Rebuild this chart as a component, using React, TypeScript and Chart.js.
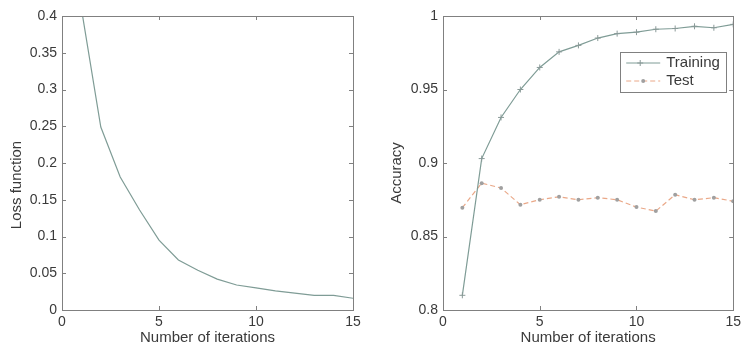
import React, { useEffect, useRef } from "react";
import { Chart, registerables } from "chart.js";

Chart.register(...registerables);

const iterations = [1, 2, 3, 4, 5, 6, 7, 8, 9, 10, 11, 12, 13, 14, 15];
const lossValues = [0.41, 0.249, 0.181, 0.136, 0.095, 0.068, 0.054, 0.042, 0.034, 0.03, 0.026, 0.023, 0.02, 0.02, 0.016];
const trainingAcc = [0.81, 0.903, 0.931, 0.95, 0.965, 0.9756, 0.98, 0.985, 0.988, 0.989, 0.991, 0.9915, 0.993, 0.992, 0.9943];
const testAcc = [0.8696, 0.8863, 0.883, 0.8716, 0.875, 0.877, 0.875, 0.8764, 0.875, 0.87, 0.8673, 0.8784, 0.875, 0.8764, 0.874];
const xTicks = [0, 5, 10, 15];
const lossTicks = [0, 0.05, 0.1, 0.15, 0.2, 0.25, 0.3, 0.35, 0.4];
const accTicks = [0.8, 0.85, 0.9, 0.95, 1];

const FONT = "'Liberation Sans', Arial, sans-serif";
const TEXT = "#3a3a3a";
const AXIS = "#808080";
const TRAIN_COLOR = "#7f9c96";
const TEST_COLOR = "#eaa888";

const pts = (ys: number[]) => iterations.map((x, i) => ({ x, y: ys[i] }));

const boxPlugin = {
  id: "matlabBox",
  afterDraw(chart: any, _args: any, opts: any) {
    const { ctx, chartArea: a, scales } = chart;
    ctx.save();
    ctx.strokeStyle = AXIS;
    ctx.lineWidth = 1;
    ctx.strokeRect(Math.round(a.left) + 0.5, Math.round(a.top) + 0.5, Math.round(a.right - a.left), Math.round(a.bottom - a.top));
    const tl = 4;
    ctx.beginPath();
    scales.x.ticks.forEach((t: any) => {
      const px = Math.round(scales.x.getPixelForValue(t.value)) + 0.5;
      ctx.moveTo(px, a.bottom);
      ctx.lineTo(px, a.bottom - tl);
      ctx.moveTo(px, a.top);
      ctx.lineTo(px, a.top + tl);
    });
    scales.y.ticks.forEach((t: any) => {
      const py = Math.round(scales.y.getPixelForValue(t.value)) + 0.5;
      ctx.moveTo(a.left, py);
      ctx.lineTo(a.left + tl, py);
      ctx.moveTo(a.right, py);
      ctx.lineTo(a.right - tl, py);
    });
    ctx.stroke();
    // y title
    ctx.fillStyle = TEXT;
    ctx.font = `15px ${FONT}`;
    ctx.textAlign = "center";
    ctx.textBaseline = "middle";
    ctx.translate(opts.titleX, (a.top + a.bottom) / 2 + opts.titleDy);
    ctx.rotate(-Math.PI / 2);
    ctx.fillText(opts.title, 0, 0);
    ctx.restore();
  },
};

const legendPlugin = {
  id: "boxLegend",
  afterDraw(chart: any, _args: any, opts: any) {
    if (!opts || !opts.show) return;
    const { ctx, chartArea: a } = chart;
    const w = 106, h = 40;
    const x0 = a.right - 7 - w;
    const y0 = a.top + 36;
    ctx.save();
    ctx.fillStyle = "#fff";
    ctx.fillRect(x0, y0, w, h);
    ctx.strokeStyle = AXIS;
    ctx.lineWidth = 1;
    ctx.strokeRect(Math.round(x0) + 0.5, Math.round(y0) + 0.5, w, h);
    const ds = chart.data.datasets;
    ds.forEach((d: any, i: number) => {
      const yy = y0 + 11 + i * 18;
      ctx.strokeStyle = d.borderColor;
      ctx.lineWidth = 1;
      ctx.setLineDash(d.borderDash || []);
      ctx.beginPath();
      ctx.moveTo(x0 + 6, yy);
      ctx.lineTo(x0 + 40, yy);
      ctx.stroke();
      ctx.setLineDash([]);
      ctx.strokeStyle = d.pointBorderColor;
      ctx.fillStyle = d.pointBackgroundColor;
      ctx.beginPath();
      if (d.pointStyle === "cross") {
        ctx.moveTo(x0 + 20, yy - 3);
        ctx.lineTo(x0 + 20, yy + 3);
        ctx.moveTo(x0 + 17, yy);
        ctx.lineTo(x0 + 23, yy);
        ctx.stroke();
      } else {
        ctx.arc(x0 + 23, yy, 2, 0, Math.PI * 2);
        ctx.fill();
      }
      ctx.fillStyle = TEXT;
      ctx.font = `15px ${FONT}`;
      ctx.textAlign = "left";
      ctx.textBaseline = "middle";
      ctx.fillText(d.label, x0 + 46, yy);
    });
    ctx.restore();
  },
};

function makeOptions(yMin: number, yMax: number, yTicks: number[], yWidth: number, padRight: number, title: string, titleX: number, titleDy: number, legend: boolean): any {
  return {
    responsive: false,
    animation: false,
    layout: { padding: { top: 16, right: padRight, left: 0, bottom: 0 } },
    plugins: {
      legend: { display: false },
      tooltip: { enabled: false },
      matlabBox: { title, titleX, titleDy },
      boxLegend: { show: legend },
    },
    scales: {
      x: {
        type: "linear",
        min: 0,
        max: 15,
        grid: { display: false, drawTicks: false },
        border: { display: false },
        afterBuildTicks: (s: any) => {
          s.ticks = xTicks.map((v) => ({ value: v }));
        },
        ticks: { color: TEXT, font: { family: FONT, size: 14 }, padding: 4, maxRotation: 0, autoSkip: false },
        title: { display: true, text: "Number of iterations", color: TEXT, font: { family: FONT, size: 15 }, padding: { top: 0, bottom: 5 } },
        afterFit: (s: any) => {
          s.height = 42;
        },
      },
      y: {
        type: "linear",
        min: yMin,
        max: yMax,
        grid: { display: false, drawTicks: false },
        border: { display: false },
        afterBuildTicks: (s: any) => {
          s.ticks = yTicks.map((v) => ({ value: v }));
        },
        ticks: { color: TEXT, font: { family: FONT, size: 14 }, padding: 5, autoSkip: false, callback: (v: any) => String(Number(v.toFixed(2))) },
        afterFit: (s: any) => {
          s.width = yWidth;
        },
      },
    },
  };
}

function LossChart() {
  const ref = useRef<HTMLCanvasElement>(null);
  useEffect(() => {
    const chart = new Chart(ref.current!, {
      type: "line",
      data: {
        datasets: [
          {
            label: "Loss",
            data: pts(lossValues),
            borderColor: TRAIN_COLOR,
            borderWidth: 1.2,
            pointRadius: 0,
            tension: 0,
          },
        ],
      },
      options: makeOptions(0, 0.4, lossTicks, 62, 17, "Loss function", 17, 22, false),
      plugins: [boxPlugin, legendPlugin],
    } as any);
    return () => chart.destroy();
  }, []);
  return <canvas ref={ref} width={370} height={352} style={{ position: "absolute", left: 0, top: 0 }} />;
}

function AccChart() {
  const ref = useRef<HTMLCanvasElement>(null);
  useEffect(() => {
    const chart = new Chart(ref.current!, {
      type: "line",
      data: {
        datasets: [
          {
            label: "Training",
            data: pts(trainingAcc),
            borderColor: TRAIN_COLOR,
            borderWidth: 1.2,
            pointStyle: "cross",
            pointRadius: 3,
            pointBorderColor: "#8a9a98",
            pointBackgroundColor: "#8a9a98",
            pointBorderWidth: 1,
            tension: 0,
          },
          {
            label: "Test",
            data: pts(testAcc),
            borderColor: TEST_COLOR,
            borderWidth: 1.2,
            borderDash: [5, 3],
            pointStyle: "circle",
            pointRadius: 2,
            pointBorderColor: "#a0a0a0",
            pointBackgroundColor: "#a0a0a0",
            pointBorderWidth: 0,
            tension: 0,
          },
        ],
      },
      options: makeOptions(0.8, 1, accTicks, 68, 11, "Accuracy", 22, 10, true),
      plugins: [boxPlugin, legendPlugin],
    } as any);
    return () => chart.destroy();
  }, []);
  return <canvas ref={ref} width={370} height={352} style={{ position: "absolute", left: 375, top: 0 }} />;
}

export default function App() {
  return (
    <div style={{ position: "fixed", left: 0, top: 0, width: 745, height: 352, background: "#fff", overflow: "hidden" }}>
      <LossChart />
      <AccChart />
    </div>
  );
}
